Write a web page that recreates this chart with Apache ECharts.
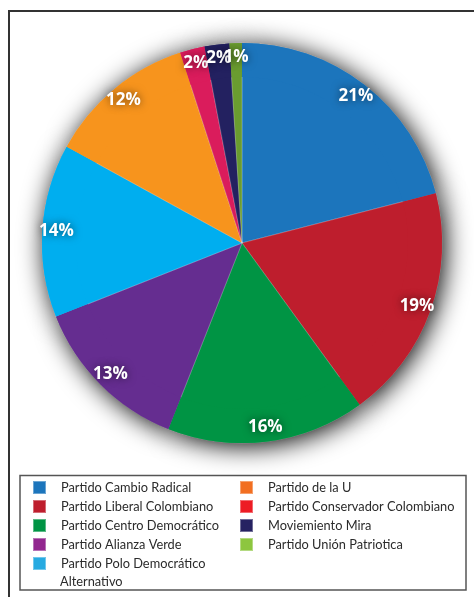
<!DOCTYPE html>
<html>
<head>
<meta charset="utf-8">
<script src="https://cdn.jsdelivr.net/npm/echarts@6/dist/echarts.min.js"></script>
<style>
html,body{margin:0;padding:0;background:#fff;}
#chart{width:474px;height:597px;}
</style>
</head>
<body>
<div id="chart"></div>
<script>
const categories = [
  'Partido Cambio Radical',
  'Partido Liberal Colombiano',
  'Partido Centro Democrático',
  'Partido Alianza Verde',
  'Partido Polo Democrático Alternativo',
  'Partido de la U',
  'Partido Conservador Colombiano',
  'Moviemiento Mira',
  'Partido Unión Patriotica'
];
const values = [21, 19, 16, 13, 14, 12, 2, 2, 1];
const sliceColors = ['#1C75BC', '#BE1E2D', '#009444', '#652D90', '#00AEEF', '#F7941D', '#DA1C5C', '#232160', '#6A9C30'];
const legendColors = ['#1C75BC', '#BE1E2D', '#009444', '#92278F', '#27AAE1', '#F26F21', '#ED1C24', '#262262', '#8DC63F'];
const leftLegendNames = categories.slice(0, 5);
const rightLegendNames = categories.slice(5);
const wrappedWord = 'Alternativo';

const pieData = categories.map((n, i) => ({ name: n, value: values[i], itemStyle: { color: sliceColors[i] } }));
const legendItems = names => names.map(n => ({ name: n, itemStyle: { color: legendColors[categories.indexOf(n)] } }));

const chart = echarts.init(document.getElementById('chart'), null, { renderer: 'canvas' });
const legendFont = { fontFamily: 'Lato', fontSize: 12.8, color: '#2b2b2b' };
const legendText = Object.assign({ padding: [0, 0, 0, 10], lineHeight: 13 }, legendFont);
const legendBase = {
  orient: 'vertical', icon: 'rect', itemWidth: 13, itemHeight: 13, itemGap: 4,
  padding: 0, selectedMode: false, textStyle: legendText,
  formatter: n => n.replace(' ' + wrappedWord, '')
};
chart.setOption({
  animation: false,
  backgroundColor: '#fff',
  graphic: [
    { type: 'rect', shape: { x: 9, y: 11, width: 480, height: 600 }, style: { fill: 'none', stroke: '#333', lineWidth: 2 }, silent: true },
    { type: 'rect', shape: { x: 20, y: 475.5, width: 446, height: 114.5 }, style: { fill: 'none', stroke: '#555', lineWidth: 1.5 }, silent: true },
    { type: 'text', x: 60, y: 582, silent: true,
      style: Object.assign({ text: wrappedWord, verticalAlign: 'middle', align: 'left' }, legendFont, { fill: legendFont.color }) }
  ],
  legend: [
    Object.assign({}, legendBase, { left: 32, top: 480, data: legendItems(leftLegendNames) }),
    Object.assign({}, legendBase, { left: 239, top: 480, data: legendItems(rightLegendNames) })
  ],
  series: [
    {
      type: 'pie', center: [242, 243], radius: [0, 200], z: 3, silent: true,
      data: pieData, label: { show: false }, labelLine: { show: false },
      itemStyle: { borderColor: 'rgba(255,255,255,0.35)', borderWidth: 0.6 },
      emphasis: { disabled: true }
    },
    {
      type: 'pie', center: [242, 243], radius: [0, 200], z: 1, silent: true,
      data: pieData, label: { show: false }, labelLine: { show: false },
      itemStyle: { color: '#000', shadowBlur: 26, shadowColor: 'rgba(0,0,0,1)', shadowOffsetX: 3, shadowOffsetY: 3 },
      emphasis: { disabled: true }
    },
    {
      type: 'pie', center: [242, 243], radius: [166, 200], z: 4, silent: true,
      data: pieData, itemStyle: { color: 'rgba(0,0,0,0)' }, labelLine: { show: false },
      labelLayout: { hideOverlap: false },
      label: {
        show: true, position: 'inside', formatter: '{c}%',
        fontFamily: 'Open Sans', fontWeight: 'bold', fontSize: 17, color: '#fff',
        textShadowColor: 'rgba(0,0,0,0.6)', textShadowBlur: 8
      },
      emphasis: { disabled: true }
    }
  ]
});
</script>
</body>
</html>
